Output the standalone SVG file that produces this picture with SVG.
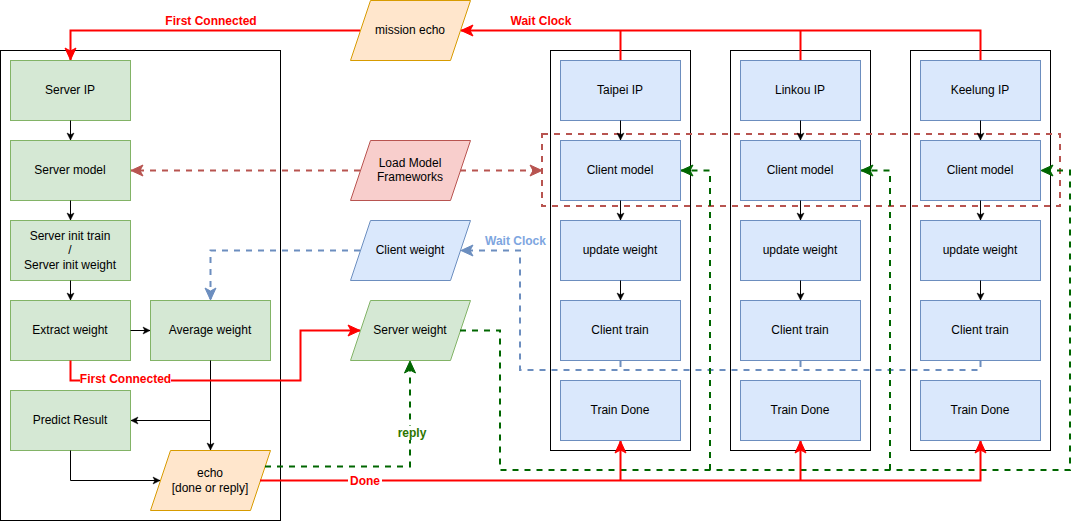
<svg xmlns="http://www.w3.org/2000/svg" width="1080" height="521" viewBox="0 0 1080 521">
<defs>
<style>
text{font-family:"Liberation Sans",Arial,Helvetica,sans-serif;font-size:12px;text-anchor:middle;fill:#000}
.g{fill:#d5e8d4;stroke:#82b366;stroke-width:1}
.b{fill:#dae8fc;stroke:#6c8ebf;stroke-width:1}
.o{fill:#ffe6cc;stroke:#d79b00;stroke-width:1}
.r{fill:#f8cecc;stroke:#b85450;stroke-width:1}
.cont{fill:none;stroke:#000;stroke-width:1}
.lbl{font-weight:bold}
.c{fill:none}
.blk{stroke:#000;stroke-width:1}
.red{stroke:#ff0000;stroke-width:2}
.rdash{stroke:#b85450;stroke-width:2;stroke-dasharray:6 6}
.bdash{stroke:#6c8ebf;stroke-width:2;stroke-dasharray:6 6}
.gdash{stroke:#006600;stroke-width:2;stroke-dasharray:6 6}
.bg{fill:#fff;stroke:none}
</style>
<marker id="aBlk" markerUnits="userSpaceOnUse" viewBox="-9 -5 10 10" refX="0" refY="0" markerWidth="10" markerHeight="10" orient="auto"><path d="M0,0 L-7,-3.5 L-5.2,0 L-7,3.5 Z" fill="#000" stroke="#000" stroke-width="0.5"/></marker>
<marker id="aRed" markerUnits="userSpaceOnUse" viewBox="-14 -7 15 14" refX="0" refY="0" markerWidth="15" markerHeight="14" orient="auto"><path d="M0,0 L-12,-5.5 L-9,0 L-12,5.5 Z" fill="#ff0000" stroke="#ff0000" stroke-width="1"/></marker>
<marker id="aRdash" markerUnits="userSpaceOnUse" viewBox="-14 -7 15 14" refX="0" refY="0" markerWidth="15" markerHeight="14" orient="auto"><path d="M0,0 L-12,-5.5 L-9,0 L-12,5.5 Z" fill="#b85450" stroke="#b85450" stroke-width="1"/></marker>
<marker id="aBlue" markerUnits="userSpaceOnUse" viewBox="-14 -7 15 14" refX="0" refY="0" markerWidth="15" markerHeight="14" orient="auto"><path d="M0,0 L-12,-5.5 L-9,0 L-12,5.5 Z" fill="#6c8ebf" stroke="#6c8ebf" stroke-width="1"/></marker>
<marker id="aGreen" markerUnits="userSpaceOnUse" viewBox="-14 -7 15 14" refX="0" refY="0" markerWidth="15" markerHeight="14" orient="auto"><path d="M0,0 L-12,-5.5 L-9,0 L-12,5.5 Z" fill="#006600" stroke="#006600" stroke-width="1"/></marker>
</defs>
<rect width="1080" height="521" fill="#fff"/>

<!-- containers -->
<g id="server-container"><rect class="cont" x="0.5" y="50.5" width="280" height="470"/></g>
<g id="taipei-container"><rect class="cont" x="550.5" y="50.5" width="140" height="400"/></g>
<g id="linkou-container"><rect class="cont" x="730.5" y="50.5" width="140" height="400"/></g>
<g id="keelung-container"><rect class="cont" x="910.5" y="50.5" width="140" height="400"/></g>

<!-- server nodes -->
<g id="server-ip"><rect class="g" x="10.5" y="60.5" width="120" height="60"/><text x="70" y="94">Server IP</text></g>
<g id="server-model"><rect class="g" x="10.5" y="140.5" width="120" height="60"/><text x="70" y="174">Server model</text></g>
<g id="server-init"><rect class="g" x="10.5" y="220.5" width="120" height="60"/><text x="70" y="240">Server init train</text><text x="70" y="254">/</text><text x="70" y="269">Server init weight</text></g>
<g id="extract-weight"><rect class="g" x="10.5" y="300.5" width="120" height="60"/><text x="70" y="334">Extract weight</text></g>
<g id="average-weight"><rect class="g" x="150.5" y="300.5" width="120" height="60"/><text x="210" y="334">Average weight</text></g>
<g id="predict-result"><rect class="g" x="10.5" y="390.5" width="120" height="60"/><text x="70" y="424">Predict Result</text></g>
<g id="echo"><polygon class="o" points="170.5,450.5 270.5,450.5 250.5,510.5 150.5,510.5"/><text x="210" y="477">echo</text><text x="210" y="492">[done or reply]</text></g>

<!-- middle nodes -->
<g id="mission-echo"><polygon class="o" points="370.5,0.5 470.5,0.5 450.5,60.5 350.5,60.5"/><text x="410" y="34">mission echo</text></g>
<g id="load-model"><polygon class="r" points="370.5,140.5 470.5,140.5 450.5,200.5 350.5,200.5"/><text x="410" y="167">Load Model</text><text x="410" y="181">Frameworks</text></g>
<g id="client-weight"><polygon class="b" points="370.5,220.5 470.5,220.5 450.5,280.5 350.5,280.5"/><text x="410" y="254">Client weight</text></g>
<g id="server-weight"><polygon class="g" points="370.5,300.5 470.5,300.5 450.5,360.5 350.5,360.5"/><text x="410" y="334">Server weight</text></g>

<!-- Taipei -->
<g id="taipei-ip"><rect class="b" x="560.5" y="60.5" width="120" height="60"/><text x="620" y="94">Taipei IP</text></g>
<g id="taipei-client-model"><rect class="b" x="560.5" y="140.5" width="120" height="60"/><text x="620" y="174">Client model</text></g>
<g id="taipei-update-weight"><rect class="b" x="560.5" y="220.5" width="120" height="60"/><text x="620" y="254">update weight</text></g>
<g id="taipei-client-train"><rect class="b" x="560.5" y="300.5" width="120" height="60"/><text x="620" y="334">Client train</text></g>
<g id="taipei-train-done"><rect class="b" x="560.5" y="380.5" width="120" height="60"/><text x="620" y="414">Train Done</text></g>

<!-- Linkou -->
<g id="linkou-ip"><rect class="b" x="740.5" y="60.5" width="120" height="60"/><text x="800" y="94">Linkou IP</text></g>
<g id="linkou-client-model"><rect class="b" x="740.5" y="140.5" width="120" height="60"/><text x="800" y="174">Client model</text></g>
<g id="linkou-update-weight"><rect class="b" x="740.5" y="220.5" width="120" height="60"/><text x="800" y="254">update weight</text></g>
<g id="linkou-client-train"><rect class="b" x="740.5" y="300.5" width="120" height="60"/><text x="800" y="334">Client train</text></g>
<g id="linkou-train-done"><rect class="b" x="740.5" y="380.5" width="120" height="60"/><text x="800" y="414">Train Done</text></g>

<!-- Keelung -->
<g id="keelung-ip"><rect class="b" x="920.5" y="60.5" width="120" height="60"/><text x="980" y="94">Keelung IP</text></g>
<g id="keelung-client-model"><rect class="b" x="920.5" y="140.5" width="120" height="60"/><text x="980" y="174">Client model</text></g>
<g id="keelung-update-weight"><rect class="b" x="920.5" y="220.5" width="120" height="60"/><text x="980" y="254">update weight</text></g>
<g id="keelung-client-train"><rect class="b" x="920.5" y="300.5" width="120" height="60"/><text x="980" y="334">Client train</text></g>
<g id="keelung-train-done"><rect class="b" x="920.5" y="380.5" width="120" height="60"/><text x="980" y="414">Train Done</text></g>

<!-- load model group -->
<g id="client-model-group"><rect class="c rdash" x="542" y="134" width="518" height="72"/></g>

<g id="connectors">
  <!-- black -->
  <path class="c blk" d="M70.5,120.5 V140" marker-end="url(#aBlk)"/>
  <path class="c blk" d="M70.5,200.5 V220" marker-end="url(#aBlk)"/>
  <path class="c blk" d="M70.5,280.5 V300" marker-end="url(#aBlk)"/>
  <path class="c blk" d="M130.5,330.5 H150" marker-end="url(#aBlk)"/>
  <path class="c blk" d="M210.5,360.5 V450" marker-end="url(#aBlk)"/>
  <path class="c blk" d="M210.5,420.5 H131" marker-end="url(#aBlk)"/>
  <path class="c blk" d="M70.5,450.5 V480.5 H160" marker-end="url(#aBlk)"/>
  <path class="c blk" d="M620.5,120.5 V140" marker-end="url(#aBlk)"/>
  <path class="c blk" d="M620.5,200.5 V220" marker-end="url(#aBlk)"/>
  <path class="c blk" d="M620.5,280.5 V300" marker-end="url(#aBlk)"/>
  <path class="c blk" d="M800.5,120.5 V140" marker-end="url(#aBlk)"/>
  <path class="c blk" d="M800.5,200.5 V220" marker-end="url(#aBlk)"/>
  <path class="c blk" d="M800.5,280.5 V300" marker-end="url(#aBlk)"/>
  <path class="c blk" d="M980.5,120.5 V140" marker-end="url(#aBlk)"/>
  <path class="c blk" d="M980.5,200.5 V220" marker-end="url(#aBlk)"/>
  <path class="c blk" d="M980.5,280.5 V300" marker-end="url(#aBlk)"/>

  <!-- red dashed load model -->
  <path class="c rdash" d="M360,170.5 H131" marker-end="url(#aRdash)"/>
  <path class="c rdash" d="M460,170.5 H542" marker-end="url(#aRdash)"/>

  <!-- blue dashed -->
  <path class="c bdash" d="M620.5,361 V370 H520 V250.5 H461" marker-end="url(#aBlue)"/>
  <path class="c bdash" d="M980.5,361 V370 H620.5"/>
  <path class="c bdash" d="M800.5,361 V370"/>
  <path class="c bdash" d="M360,250.5 H210.5 V300" marker-end="url(#aBlue)"/>

  <!-- green dashed -->
  <path class="c gdash" d="M460,330.5 H500 V470 H1070 V170.5 H1041" marker-end="url(#aGreen)"/>
  <path class="c gdash" d="M710,470 V170.5 H681" marker-end="url(#aGreen)"/>
  <path class="c gdash" d="M890,470 V170.5 H861" marker-end="url(#aGreen)"/>
  <path class="c gdash" d="M265,466.5 H410 V361" marker-end="url(#aGreen)"/>

  <!-- red solid -->
  <path class="c red" d="M360,30.5 H70.5 V60" marker-end="url(#aRed)"/>
  <path class="c red" d="M980.5,60 V30.5 H461" marker-end="url(#aRed)"/>
  <path class="c red" d="M620.5,60 V30.5"/>
  <path class="c red" d="M800.5,60 V30.5"/>
  <path class="c red" d="M70.5,360.5 V380.5 H300.5 V330.5 H360" marker-end="url(#aRed)"/>
  <path class="c red" d="M260,480.5 H980.5 V441" marker-end="url(#aRed)"/>
  <path class="c red" d="M620.5,480.5 V441" marker-end="url(#aRed)"/>
  <path class="c red" d="M800.5,480.5 V441" marker-end="url(#aRed)"/>

  <!-- labels -->
  <text class="lbl" x="211" y="25" fill="#ff0000" style="fill:#ff0000">First Connected</text>
  <text class="lbl" x="541" y="25" style="fill:#ff0000">Wait Clock</text>
  <rect class="bg" x="80" y="373" width="91" height="14"/>
  <text class="lbl" x="125.5" y="383" style="fill:#ff0000">First Connected</text>
  <rect class="bg" x="348" y="474" width="34" height="14"/>
  <text class="lbl" x="365" y="485" style="fill:#ff0000">Done</text>
  <text class="lbl" x="515.5" y="245" style="fill:#7ea6e0">Wait Clock</text>
  <rect class="bg" x="396" y="426" width="32" height="14"/>
  <text class="lbl" x="412" y="437" style="fill:#2d7600">reply</text>
</g>
</svg>
